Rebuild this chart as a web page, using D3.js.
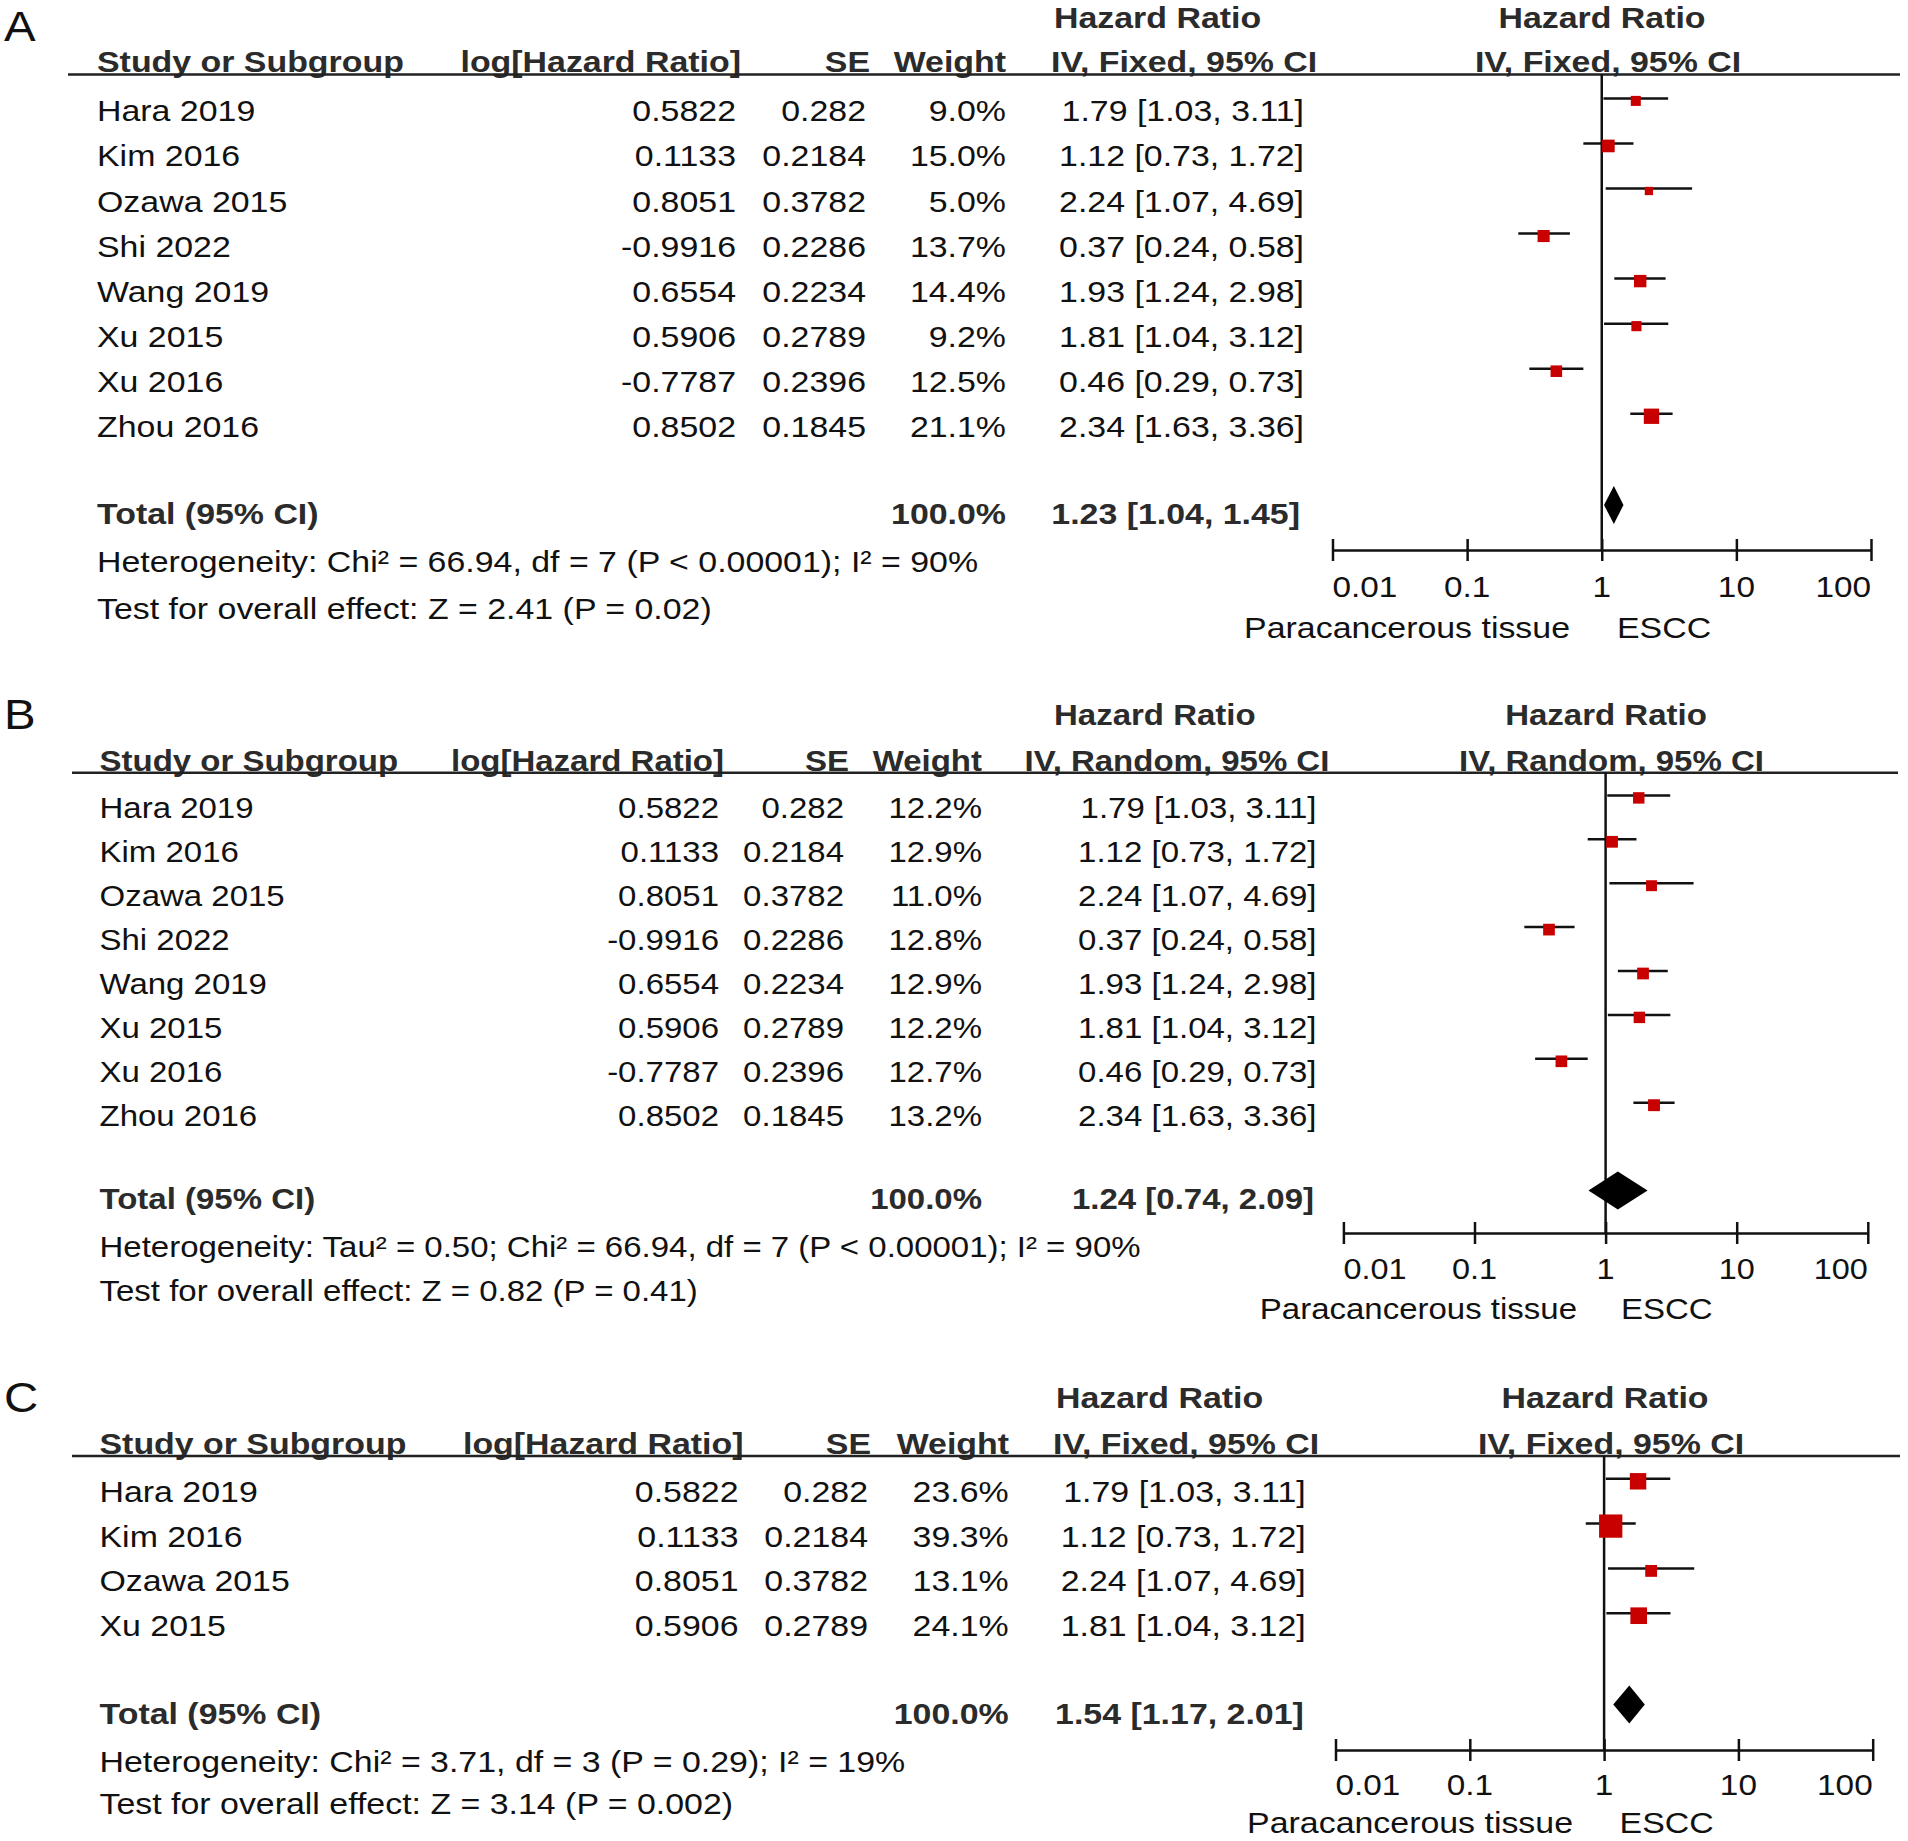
<!DOCTYPE html>
<html>
<head>
<meta charset="utf-8">
<script src="https://cdn.jsdelivr.net/npm/d3@7"></script>
<style>
  html, body { margin: 0; padding: 0; background: #fff; }
  svg { display: block; }
  text { font-family: "Liberation Sans", Arial, Helvetica, sans-serif; }
</style>
</head>
<body>
<svg id="chart" width="1908" height="1841"></svg>
<script>
// ---------------- DATA ----------------
const studies  = ["Hara 2019", "Kim 2016", "Ozawa 2015", "Shi 2022", "Wang 2019", "Xu 2015", "Xu 2016", "Zhou 2016"];
const logHR    = [0.5822, 0.1133, 0.8051, -0.9916, 0.6554, 0.5906, -0.7787, 0.8502];
const seVals   = [0.282, 0.2184, 0.3782, 0.2286, 0.2234, 0.2789, 0.2396, 0.1845];
const hrVals   = [1.79, 1.12, 2.24, 0.37, 1.93, 1.81, 0.46, 2.34];
const hrLow    = [1.03, 0.73, 1.07, 0.24, 1.24, 1.04, 0.29, 1.63];
const hrHigh   = [3.11, 1.72, 4.69, 0.58, 2.98, 3.12, 0.73, 3.36];
const weightsA = [9.0, 15.0, 5.0, 13.7, 14.4, 9.2, 12.5, 21.1];
const weightsB = [12.2, 12.9, 11.0, 12.8, 12.9, 12.2, 12.7, 13.2];
const studiesC = ["Hara 2019", "Kim 2016", "Ozawa 2015", "Xu 2015"];
const weightsC = [23.6, 39.3, 13.1, 24.1];
const totalA   = [1.23, 1.04, 1.45];
const totalB   = [1.24, 0.74, 2.09];
const totalC   = [1.54, 1.17, 2.01];
const tickValues = [0.01, 0.1, 1, 10, 100];
const tickLabels = ["0.01", "0.1", "1", "10", "100"];
const panelLetters = ["A", "B", "C"];
const methodLabels = ["IV, Fixed, 95% CI", "IV, Random, 95% CI", "IV, Fixed, 95% CI"];
const hetTexts = [
  "Heterogeneity: Chi\u00b2 = 66.94, df = 7 (P < 0.00001); I\u00b2 = 90%",
  "Heterogeneity: Tau\u00b2 = 0.50; Chi\u00b2 = 66.94, df = 7 (P < 0.00001); I\u00b2 = 90%",
  "Heterogeneity: Chi\u00b2 = 3.71, df = 3 (P = 0.29); I\u00b2 = 19%"
];
const testTexts = [
  "Test for overall effect: Z = 2.41 (P = 0.02)",
  "Test for overall effect: Z = 0.82 (P = 0.41)",
  "Test for overall effect: Z = 3.14 (P = 0.002)"
];
const favourLeft = "Paracancerous tissue";
const favourRight = "ESCC";

// ---------------- BUILD PANEL DATA ----------------
function rowsFor(idx, weights) {
  return idx.map((k, i) => ({
    study: studies[k], log: logHR[k], se: seVals[k],
    hr: hrVals[k], lo: hrLow[k], hi: hrHigh[k], w: weights[i]
  }));
}
const idxAll = d3.range(studies.length);
const idxC = studiesC.map(s => studies.indexOf(s));
const panelsData = [
  { rows: rowsFor(idxAll, weightsA), total: totalA },
  { rows: rowsFor(idxAll, weightsB), total: totalB },
  { rows: rowsFor(idxC, weightsC), total: totalC }
];

// ---------------- LAYOUT ----------------
const SX = 1.13;     // horizontal text stretch of the reference
const layouts = [
  { fs: 30, labelY: 41, t1: 28, t2: 72, rule: 74.5, ruleX: [68, 1900], row0: 121.4, step: 45.05,
    totalY: 524, hetY: 572, testY: 618.5, studyX: 97,
    logEnd: 736, logHeadEnd: 741, seEnd: 866, seHeadEnd: 870, wEnd: 1006, wHeadEnd: 1006,
    hrEnd: 1304, hrTotEnd: 1300, hrHeadX: 1054, ivHeadX: 1051,
    plotHead1: 1602, plotHead2: 1608, xr: [1332.5, 1871], axisY: 550,
    tickY: 597, favY: 637.5, favL: 1570, favR: 1617 },
  { fs: 29.2, labelY: 729, t1: 725, t2: 770.5, rule: 772.7, ruleX: [72, 1898], row0: 818.4, step: 43.9,
    totalY: 1209.4, hetY: 1256.5, testY: 1300.5, studyX: 99.5,
    logEnd: 719, logHeadEnd: 724, seEnd: 844, seHeadEnd: 849, wEnd: 982, wHeadEnd: 982,
    hrEnd: 1316.5, hrTotEnd: 1314, hrHeadX: 1054, ivHeadX: 1024.5,
    plotHead1: 1606, plotHead2: 1611.5, xr: [1343.4, 1867.8], axisY: 1233,
    tickY: 1279, favY: 1319, favL: 1577, favR: 1621 },
  { fs: 30, labelY: 1412, t1: 1407.5, t2: 1453.5, rule: 1456, ruleX: [72, 1900], row0: 1501.8, step: 44.8,
    totalY: 1723.6, hetY: 1772, testY: 1814, studyX: 99.5,
    logEnd: 738.5, logHeadEnd: 743.5, seEnd: 868, seHeadEnd: 871, wEnd: 1008.7, wHeadEnd: 1009,
    hrEnd: 1305.7, hrTotEnd: 1303.8, hrHeadX: 1056, ivHeadX: 1053,
    plotHead1: 1605, plotHead2: 1611, xr: [1335.5, 1872.7], axisY: 1750,
    tickY: 1795, favY: 1833, favL: 1573, favR: 1619.6 }
];

const svg = d3.select("#chart");
const f2 = d3.format(".2f");
const f1 = d3.format(".1f");
const sizeScale = d3.scaleLinear().domain([0, 100]).range([6.1, 49.8]);

function T(g, x, y, s, opt) {
  const bold = !!opt.bold;
  return g.append("text")
    .attr("transform", `translate(${x},${y}) scale(${SX},1)`)
    .attr("text-anchor", opt.anchor || "start")
    .attr("font-size", opt.size)
    .attr("font-weight", bold ? 700 : 400)
    .attr("fill", bold ? "#2b2b2b" : "#111")
    .text(s);
}

panelsData.forEach((pd, p) => {
  const L = layouts[p];
  const fs = L.fs;
  const g = svg.append("g").attr("class", "panel-" + panelLetters[p]);
  const n = pd.rows.length;
  const y = d3.scaleLinear().domain([0, n - 1]).range([L.row0, L.row0 + L.step * (n - 1)]);
  const x = d3.scaleLog().domain([0.01, 100]).range(L.xr);

  // panel letter
  T(g, 4, L.labelY, panelLetters[p], { size: 42 });

  // headers
  T(g, L.hrHeadX, L.t1, "Hazard Ratio", { bold: true, size: fs });
  T(g, L.plotHead1, L.t1, "Hazard Ratio", { bold: true, anchor: "middle", size: fs });
  T(g, L.studyX, L.t2, "Study or Subgroup", { bold: true, size: fs });
  T(g, L.logHeadEnd, L.t2, "log[Hazard Ratio]", { bold: true, anchor: "end", size: fs });
  T(g, L.seHeadEnd, L.t2, "SE", { bold: true, anchor: "end", size: fs });
  T(g, L.wHeadEnd, L.t2, "Weight", { bold: true, anchor: "end", size: fs });
  T(g, L.ivHeadX, L.t2, methodLabels[p], { bold: true, size: fs });
  T(g, L.plotHead2, L.t2, methodLabels[p], { bold: true, anchor: "middle", size: fs });

  // rule
  g.append("line").attr("x1", L.ruleX[0]).attr("x2", L.ruleX[1])
    .attr("y1", L.rule).attr("y2", L.rule).attr("stroke", "#222").attr("stroke-width", 2.5);

  // rows text
  pd.rows.forEach((r, i) => {
    const by = y(i);
    T(g, L.studyX, by, r.study, { size: fs });
    T(g, L.logEnd, by, String(r.log), { anchor: "end", size: fs });
    T(g, L.seEnd, by, String(r.se), { anchor: "end", size: fs });
    T(g, L.wEnd, by, f1(r.w) + "%", { anchor: "end", size: fs });
    T(g, L.hrEnd, by, `${f2(r.hr)} [${f2(r.lo)}, ${f2(r.hi)}]`, { anchor: "end", size: fs });
  });

  // total
  T(g, L.studyX, L.totalY, "Total (95% CI)", { bold: true, size: fs });
  T(g, L.wEnd, L.totalY, "100.0%", { bold: true, anchor: "end", size: fs });
  T(g, L.hrTotEnd, L.totalY, `${f2(pd.total[0])} [${f2(pd.total[1])}, ${f2(pd.total[2])}]`, { bold: true, anchor: "end", size: fs });
  T(g, L.studyX, L.hetY, hetTexts[p], { size: fs });
  T(g, L.studyX, L.testY, testTexts[p], { size: fs });

  // null line
  g.append("line").attr("x1", x(1)).attr("x2", x(1))
    .attr("y1", L.rule).attr("y2", L.axisY).attr("stroke", "#111").attr("stroke-width", 2.5);

  // CI lines + squares
  const marks = g.append("g");
  pd.rows.forEach((r, i) => {
    const cy = y(i) - 23;
    marks.append("line").attr("x1", x(r.lo)).attr("x2", x(r.hi))
      .attr("y1", cy).attr("y2", cy).attr("stroke", "#111").attr("stroke-width", 2.5);
    const s = sizeScale(r.w);
    marks.append("rect").attr("x", x(r.hr) - s / 2).attr("y", cy + 2.5 - s / 2)
      .attr("width", s).attr("height", s).attr("fill", "#c80000");
  });

  // diamond
  const dy = L.totalY - 19, dh = 19;
  const t = pd.total;
  g.append("path")
    .attr("d", `M${x(t[1])},${dy} L${x(t[0])},${dy - dh} L${x(t[2])},${dy} L${x(t[0])},${dy + dh} Z`)
    .attr("fill", "#000");

  // axis
  const axis = d3.axisBottom(x).tickValues(tickValues)
    .tickFormat((d, i) => tickLabels[i]).tickSizeOuter(0).tickSizeInner(11).tickPadding(0);
  const ag = g.append("g").attr("transform", `translate(0,${L.axisY})`).call(axis);
  ag.select(".domain").attr("stroke", "#111").attr("stroke-width", 2.5);
  ag.selectAll(".tick line").attr("y1", -11).attr("y2", 11).attr("stroke", "#111").attr("stroke-width", 2.5);
  ag.selectAll(".tick text").remove();
  tickValues.forEach((v, i) => {
    const anchor = i === 0 ? "start" : (i === tickValues.length - 1 ? "end" : "middle");
    T(g, x(v), L.tickY, tickLabels[i], { anchor, size: fs - 0.5 });
  });

  T(g, L.favL, L.favY, favourLeft, { anchor: "end", size: fs });
  T(g, L.favR, L.favY, favourRight, { size: fs });
});
</script>
</body>
</html>
